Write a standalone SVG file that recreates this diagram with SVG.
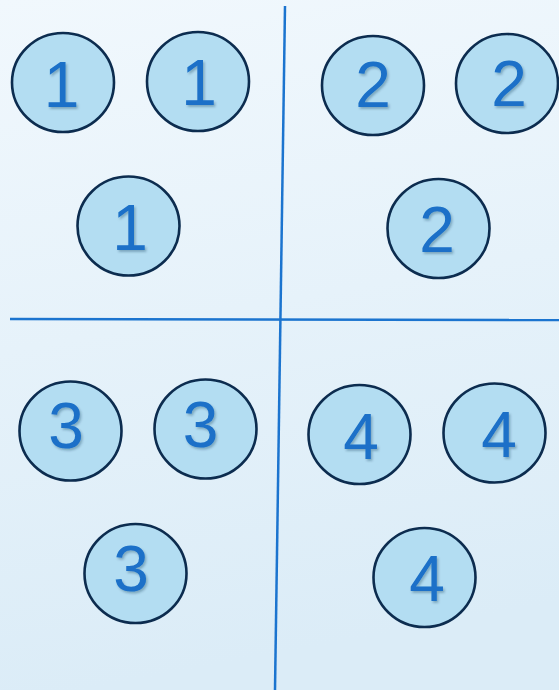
<svg xmlns="http://www.w3.org/2000/svg" width="559" height="690" viewBox="0 0 559 690">
<defs>
<linearGradient id="bg" x1="0" y1="0" x2="0.15" y2="1">
<stop offset="0" stop-color="#f1f8fd"/>
<stop offset="1" stop-color="#dbecf7"/>
</linearGradient>
<filter id="sh" x="-20%" y="-20%" width="150%" height="150%">
<feDropShadow dx="1.5" dy="2" stdDeviation="1" flood-color="#0a2a4a" flood-opacity="0.3"/>
</filter>
</defs>
<style>
.n ellipse{fill:#b3ddf2;stroke:#0c2c4f;stroke-width:2.6}
.n text{font-family:"Liberation Sans",Arial,sans-serif;font-size:64px;fill:#1a6fc8;text-anchor:middle;filter:url(#sh)}
.c line{stroke:#1b74cf;stroke-width:2.5}
</style>
<rect x="0" y="0" width="559" height="690" fill="url(#bg)"/>
<g id="connectors" class="c">
<line x1="285" y1="6" x2="275" y2="690"/>
<line x1="10" y1="319" x2="559" y2="320"/>
</g>
<g id="n1a" class="n"><ellipse cx="63" cy="82.5" rx="51" ry="49.5"/><text x="61.5" y="107">1</text></g>
<g id="n1b" class="n"><ellipse cx="198" cy="81.5" rx="51" ry="49.5"/><text x="199" y="105">1</text></g>
<g id="n1c" class="n"><ellipse cx="128.5" cy="226" rx="51" ry="49.5"/><text x="130" y="250">1</text></g>
<g id="n2a" class="n"><ellipse cx="373" cy="85.5" rx="51" ry="49.5"/><text x="373" y="107">2</text></g>
<g id="n2b" class="n"><ellipse cx="507" cy="83.5" rx="51" ry="49.5"/><text x="509" y="106">2</text></g>
<g id="n2c" class="n"><ellipse cx="438.5" cy="228.5" rx="51" ry="49.5"/><text x="437" y="252">2</text></g>
<g id="n3a" class="n"><ellipse cx="70.5" cy="431" rx="51" ry="49.5"/><text x="66" y="448">3</text></g>
<g id="n3b" class="n"><ellipse cx="205.5" cy="429" rx="51" ry="49.5"/><text x="200.5" y="447">3</text></g>
<g id="n3c" class="n"><ellipse cx="135.5" cy="573.5" rx="51" ry="49.5"/><text x="131" y="591">3</text></g>
<g id="n4a" class="n"><ellipse cx="359.5" cy="434.5" rx="51" ry="49.5"/><text x="361" y="459">4</text></g>
<g id="n4b" class="n"><ellipse cx="494.5" cy="433" rx="51" ry="49.5"/><text x="499" y="457">4</text></g>
<g id="n4c" class="n"><ellipse cx="424.5" cy="577.5" rx="51" ry="49.5"/><text x="427" y="601">4</text></g>
</svg>
